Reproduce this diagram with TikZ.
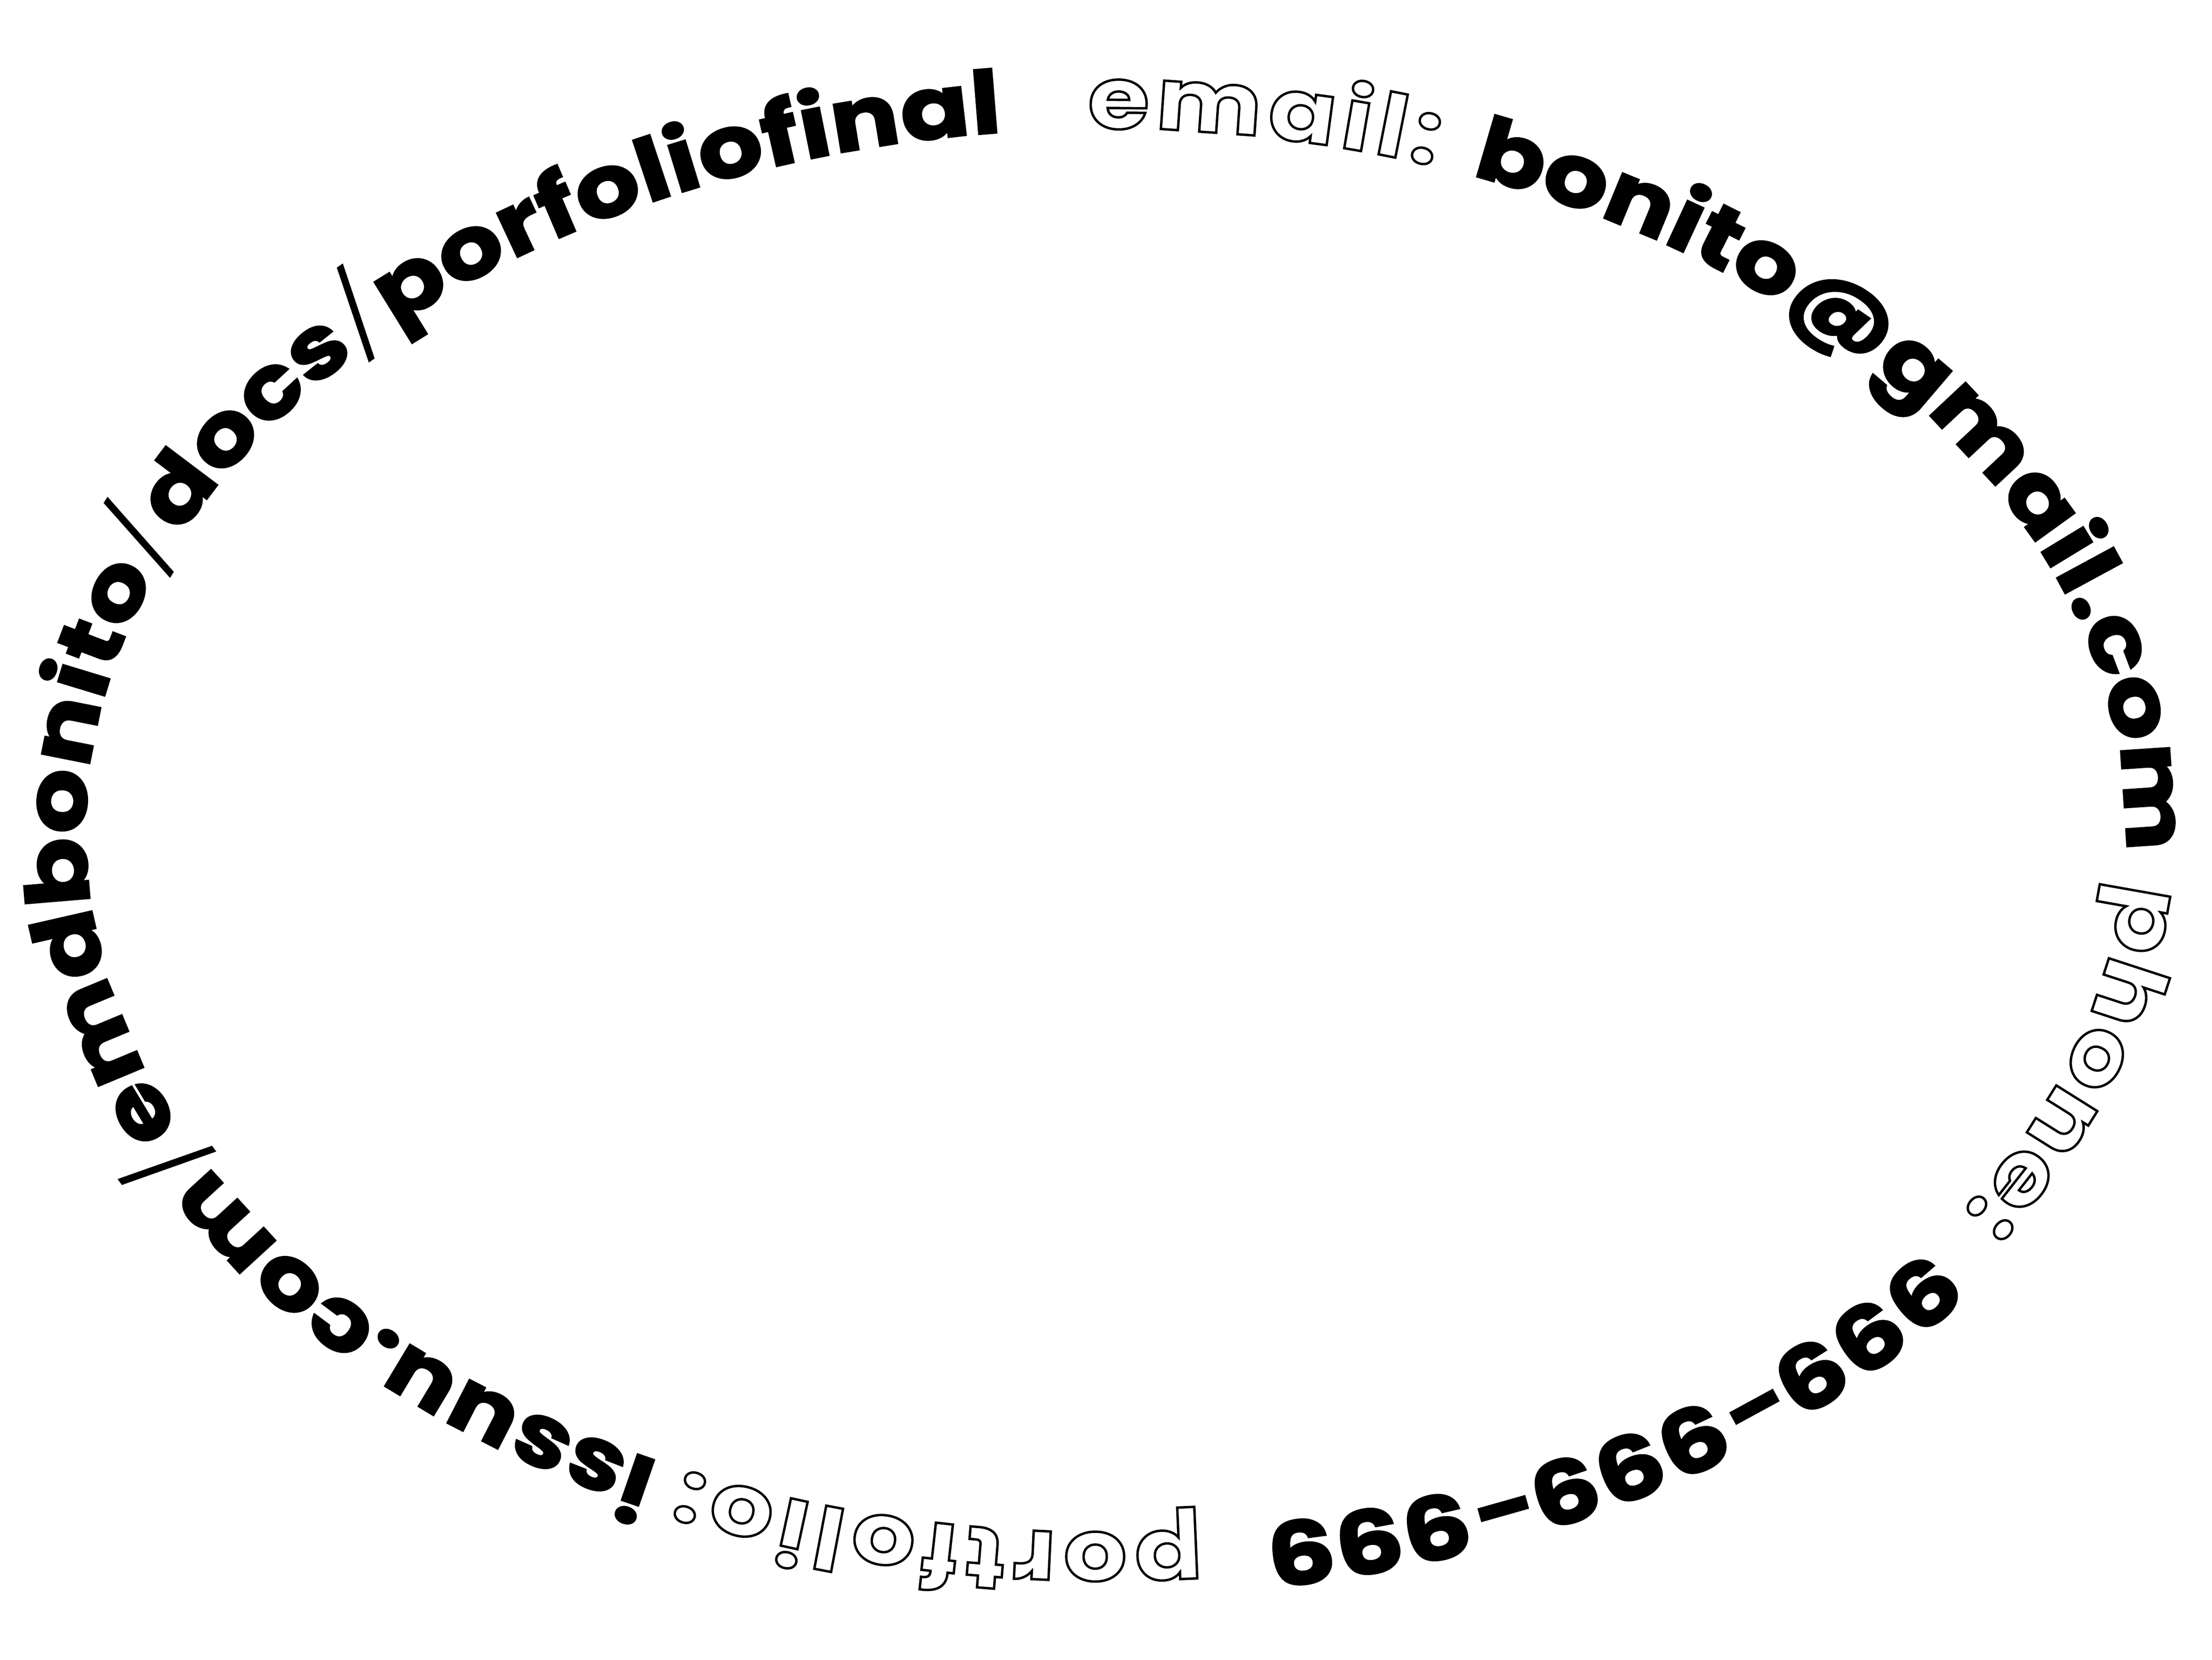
\documentclass[tikz,border=0pt]{standalone}
\usepackage{fontspec}
\usetikzlibrary{decorations.text}
\newfontfamily\solidfont{Poppins}[FakeStretch=1.17]
\newfontfamily\digitfont{Poppins}[FakeStretch=1.25]
\newfontfamily\outlfont{Poppins}[FakeStretch=1.15]
\newfontfamily\slashfont{Poppins Light}[FakeStretch=1.2]
% solid (filled and stroked), outlined and thin letters
\newcommand{\solidtxt}{\solidfont\bfseries\fontsize{72}{80}\selectfont\special{pdf:literal direct 2 Tr 1.6 w}}
\newcommand{\digittxt}{\digitfont\bfseries\fontsize{72}{80}\selectfont\special{pdf:literal direct 2 Tr 1.6 w}}
\newcommand{\outltxt}{\outlfont\bfseries\fontsize{72}{80}\selectfont\special{pdf:literal direct 1 Tr 2 w}}
\newcommand{\slashtxt}{\slashfont\fontsize{72}{80}\selectfont\special{pdf:literal direct 0 Tr}}
\begin{document}
\begin{tikzpicture}[ringtext/.style={decorate,decoration={text along path,text align={fit to path},text={#1{\kern1pt}}}},
        ring/.style={x radius=29.72, y radius=20.45}]
        \fill[white] (0,0) rectangle (64.47,48.36);
        \coordinate (centre) at (32.22,24.16);
        % one arc of the ellipse per part of the text
        \path[ringtext={|\outltxt|email:}] (centre) ++(91.0:29.72 and 20.45) arc [ring, start angle=91.0, end angle=70.8];
        \path[ringtext={|\solidtxt|bonito@gmail.com}] (centre) ++(69.0:29.72 and 20.45) arc [ring, start angle=69.0, end angle=1.5];
        \path[ringtext={|\outltxt|phone:}] (centre) ++(-4.2:29.72 and 20.45) arc [ring, start angle=-4.2, end angle=-33.2];
        \path[ringtext={|\digittxt|999-999-999}] (centre) ++(-36.3:29.72 and 20.45) arc [ring, start angle=-36.3, end angle=-81.1];
        \path[ringtext={|\outltxt|portfolio:}] (centre) ++(-84.6:29.72 and 20.45) arc [ring, start angle=-84.6, end angle=-114.9];
        \path[ringtext={|\solidtxt|issuu.com|\slashtxt|/|\solidtxt|emdbonito|\slashtxt|/|\solidtxt|docs|\slashtxt|/|\solidtxt|porfoliofinal}]
            (centre) ++(-115.9:29.72 and 20.45) arc [ring, start angle=-115.9, end angle=-264.3];
        \pgfresetboundingbox
        \useasboundingbox (0,0) rectangle (64.47,48.36);
    \end{tikzpicture}
\end{document}
